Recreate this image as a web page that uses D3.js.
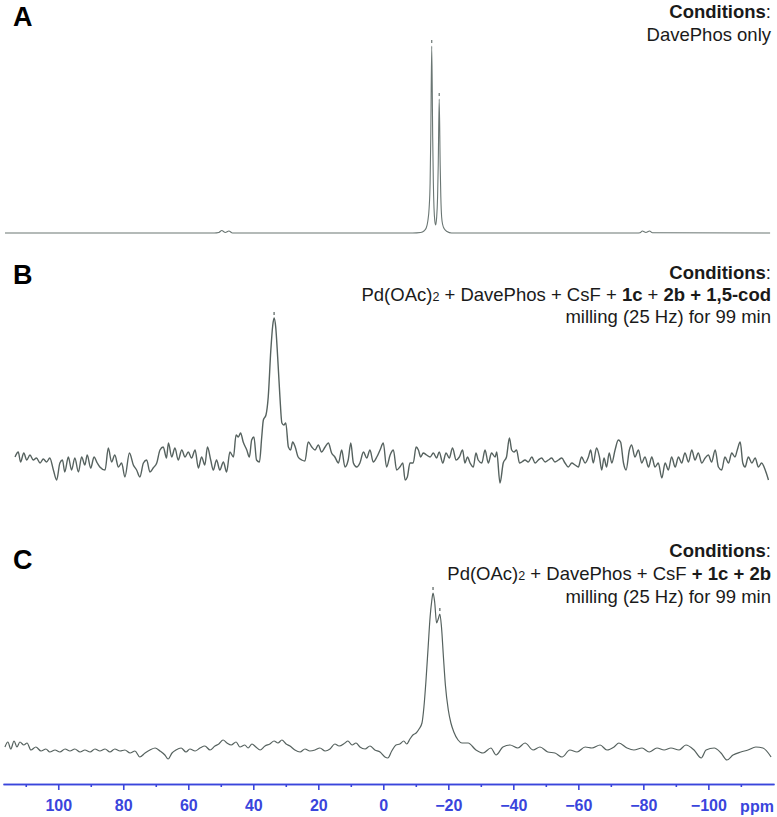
<!DOCTYPE html>
<html>
<head>
<meta charset="utf-8">
<script src="https://cdnjs.cloudflare.com/ajax/libs/d3/7.8.5/d3.min.js"></script>
<style>
  body { margin: 0; background: #fff; }
  svg text { font-family: "Liberation Sans", Arial, sans-serif; }
</style>
</head>
<body>
<svg id="chart" width="777" height="817"></svg>
<script>
// tick values of the ppm axis
const majorTicks = [100, 80, 60, 40, 20, 0, -20, -40, -60, -80, -100];
const minorTicks = [110, 90, 70, 50, 30, 10, -10, -30, -50, -70, -90, -110];

// spectrum A: DavePhos only
const specA_ppm = [116.4, 80, 52, 50.6, 49.7, 48.6, 47.5, 46.4, 20, -9,
  -11.5, -12.5, -13.2, -13.7, -14.1, -14.4, -14.6, -14.9, -15.2, -15.4,
  -15.6, -15.85, -16.1, -16.4, -16.7, -16.9, -17.2, -17.5, -17.7, -17.95,
  -18.3, -18.8, -19.6, -21, -78, -79.0, -79.7, -80.8, -81.9, -82.8, -119];
const specA_int = [0, 0, 0, 0.5, 2.5, 0.5, 2, 0, 0, 0,
  0.5, 2, 5, 12, 25, 50, 95, 187, 95, 50,
  25, 12, 8, 15, 36, 68, 134, 68, 36, 16,
  8, 4, 1.5, 0, 0, 0.3, 2, 0.5, 2, 0.3, 0];
const peaksA = [-14.9, -17.2];

// spectrum B: with 1,5-cod
const specB_ppm = [113.3,112.3,111.6,110.6,109.7,108.7,107.7,106.7,105.6,104.6,
  103.6,102.6,101.5,100.5,99.5,98.7,98.0,96.9,95.9,94.9,
  93.8,92.8,91.8,91.1,90.0,89.0,88.0,87.2,85.6,84.6,
  83.6,82.6,81.5,80.5,79.5,78.1,76.9,75.9,74.9,73.8,
  72.8,71.8,70.8,69.7,68.7,67.7,66.7,66.1,65.1,64.1,
  63.1,62.0,61.0,60.0,59.0,57.9,56.9,55.9,54.9,54.1,
  53.1,52.3,51.3,50.3,49.2,48.2,47.2,46.1,45.3,44.6,
  43.9,43.1,42.0,41.2,40.5,39.8,39.0,38.1,37.4,36.9,
  36.1,35.4,34.6,34.0,33.6,33.1,32.5,31.8,31.2,30.6,
  30.0,29.2,28.5,27.9,27.1,26.2,25.1,24.1,23.1,22.0,
  21.0,20.0,19.0,17.9,16.9,15.9,14.9,13.8,12.8,11.8,
  10.8,10.0,9.2,8.2,7.2,6.1,5.1,4.1,3.1,2.0,
  1.0,0.0,-1.0,-2.1,-3.1,-4.1,
  -5.1,-6.0,-6.7,-7.4,-8.2,-9.2,-10.1,-10.8,-11.5,-12.3,
  -13.3,-14.4,-15.4,-16.4,-17.2,-18.3,-19.3,-20.3,-21.3,-22.4,
  -23.4,-24.4,-25.1,-25.9,-26.7,-27.7,-28.5,-29.2,-30.3,-31.3,
  -32.3,-33.3,-34.4,-34.9,-35.9,-36.9,-37.9,-38.8,-39.5,-40.2,
  -41.0,-41.9,-42.6,-43.6,-44.6,-45.7,-46.7,-47.7,-48.7,-49.8,
  -50.8,-51.8,-52.8,-53.9,-54.9,-55.9,-56.9,-58.0,-59.0,-60.0,
  -61.0,-62.1,-63.1,-63.8,-64.6,-65.6,-66.5,-67.2,-67.9,-68.7,
  -69.5,-70.3,-71.3,-72.3,-73.0,-73.9,-74.7,-75.7,-76.4,-77.4,
  -78.5,-79.5,-80.5,-81.6,-82.6,-83.6,-84.6,-85.7,-86.7,-87.7,
  -88.7,-89.8,-90.8,-91.8,-92.8,-93.9,-94.9,-95.9,-96.9,-98.0,
  -99.0,-100.0,-101.0,-102.1,-103.1,-104.1,-105.1,-106.2,-107.2,-108.2,
  -108.9,-109.8,-110.6,-111.3,-112.3,-113.4,-114.4,-115.4,-116.4,-117.5,
  -118.5];
const specB_int = [3,8,-2,7,0,5,0,2,-3,1,
  -2,2,-10,-20,-3,0,-12,3,-10,2,
  -12,3,-5,5,-8,3,-3,-7,-10,12,
  -2,5,-7,-3,-17,7,-5,-10,-17,-3,
  0,-12,-8,-3,10,13,2,17,3,12,
  0,10,3,8,2,10,-8,3,-5,13,
  0,-10,0,-10,-2,-12,8,3,25,23,
  27,18,10,3,20,23,0,-2,23,40,
  45,63,110,135,142,133,103,63,37,35,
  37,13,10,18,13,3,0,-1,18,13,
  10,15,8,13,17,7,3,-3,10,-7,
  0,17,-3,-7,-3,8,2,10,-2,3,
  10,17,-7,5,10,-10,
  -7,-3,-20,-17,-3,-3,13,10,3,7,
  5,3,7,2,8,-3,7,2,12,0,
  3,10,-3,3,-3,-7,7,0,-3,10,
  -3,7,3,8,-23,-3,3,22,10,8,
  10,-3,-2,0,-2,3,-3,0,2,-2,
  0,2,-2,0,2,-3,-7,-3,-5,-7,
  3,-3,3,10,-3,12,3,-10,2,-7,
  7,-3,10,20,18,-3,-10,10,15,3,
  10,-3,3,-7,3,-7,-3,-18,-3,-10,
  3,-7,3,-3,7,-2,10,0,7,-3,
  2,5,-2,10,-7,-10,3,-3,7,3,
  10,18,-3,-7,3,-3,2,-7,-3,-10,
  -20];
const peaksB = [33.6];

// spectrum C: without 1,5-cod
const specC_ppm = [116.4,115.5,114.6,113.6,112.7,111.8,110.6,109.6,108.4,106.9,
  105.3,103.8,102.6,101.0,99.5,97.9,96.4,94.9,93.3,91.8,
  90.2,88.7,87.2,85.6,84.1,82.6,81.0,79.5,77.9,76.4,
  74.9,73.3,71.8,70.2,68.7,67.2,66.2,65.0,63.8,62.2,
  60.7,59.5,57.9,56.4,54.9,53.3,51.8,50.6,49.3,48.1,
  46.8,45.3,44.1,42.6,41.6,40.4,39.2,37.9,36.4,34.9,
  33.6,32.4,31.2,29.9,28.7,27.2,25.6,24.1,22.6,21.0,
  19.5,17.9,16.4,14.9,13.6,11.8,10.9,9.6,8.4,7.2,
  5.6,4.1,2.6,1.0,-0.5,-1.4,-2.6,-3.9,-5.1,-6.3,
  -7.2,-8.2,-9.1,-10.1,-11.0,-11.9,-12.5,-13.1,-13.8,-14.4,
  -14.9,-15.3,-15.8,-16.4,-16.9,-17.4,-17.9,-18.5,-19.1,-20.0,
  -20.8,-21.7,-23.0,-24.2,-26.1,-28.5,-30.7,-33.1,-34.7,-36.8,
  -39.0,-41.4,-43.6,-46.1,-48.2,-50.6,-52.8,-55.0,-57.4,-59.6,
  -62.1,-64.2,-66.7,-68.8,-71.0,-72.5,-75.0,-77.1,-79.6,-81.8,
  -84.2,-86.4,-88.5,-91.0,-93.1,-95.6,-97.8,-99.3,-101.8,-103.9,
  -105.7,-107.6,-110.0,-112.2,-114.6,-116.8,-119.3];
const specC_int = [0,5,-2,6,0,5,2,4,-3,0,
  -4,-2,-5,-3,-5,-2,-4,-2,-5,-3,
  -5,-2,-4,-2,-5,-2,-4,-3,-6,-4,
  -10,-6,-3,-1,-4,-8,-12,-6,-3,-1,
  -5,-2,-4,-1,1,-3,1,3,7,4,
  2,5,0,2,-1,3,0,-3,1,3,
  6,4,7,3,1,-3,-5,-2,-4,-3,
  -1,-4,-2,3,1,4,6,2,4,0,
  -2,1,-3,-5,-10,-11,-4,2,3,6,
  3,8,12,14,18,24,40,65,100,130,
  146,154,145,124,128,133,120,90,62,37,
  24,15,7,4,4,-3,-6,-1,-8,0,
  2,-1,4,-3,0,-5,-6,-10,-3,-5,
  0,-1,2,-3,0,4,-1,-3,-1,-5,
  -1,-3,-1,-3,2,-3,-11,-3,-1,-6,
  -13,-8,-5,-3,0,-1,-10];
const peaksC = [-15.3, -17.4];

const svg = d3.select("#chart");
const lineColor = "#56625f";
const blue = "#3a45dc";

// shared ppm scale (reversed, as usual for NMR)
const x = d3.scaleLinear().domain([117, -120.2]).range([3, 774]);

const panels = [
  { ppm: specA_ppm, val: specA_int, peaks: peaksA, y: d3.scaleLinear([0, 187], [233, 46]), width: 1.1, color: "#6a7673" },
  { ppm: specB_ppm, val: specB_int, peaks: peaksB, y: d3.scaleLinear([0, 142], [460, 318]), width: 1.4, color: lineColor },
  { ppm: specC_ppm, val: specC_int, peaks: peaksC, y: d3.scaleLinear([0, 154], [747, 593]), width: 1.2, color: lineColor }
];

panels.forEach(p => {
  const pts = d3.zip(p.ppm, p.val);
  const line = d3.line()
    .x(d => x(d[0]))
    .y(d => p.y(d[1]))
    .curve(d3.curveMonotoneX);
  svg.append("path")
    .datum(pts)
    .attr("d", line)
    .attr("fill", "none")
    .attr("stroke", p.color)
    .attr("stroke-width", p.width)
    .attr("stroke-linejoin", "round");

  // peak-pick marks just above each peak
  svg.selectAll(null)
    .data(p.peaks)
    .enter().append("line")
    .attr("x1", d => x(d)).attr("x2", d => x(d))
    .attr("y1", d => p.y(p.val[d3.minIndex(p.ppm, q => Math.abs(q - d))]) - 6)
    .attr("y2", d => p.y(p.val[d3.minIndex(p.ppm, q => Math.abs(q - d))]) - 3)
    .attr("stroke", p.color)
    .attr("stroke-width", 1.2);
});

// axis
const axisY = 784;
const gMinor = svg.append("g")
  .attr("transform", `translate(0,${axisY})`)
  .call(d3.axisBottom(x).tickValues(minorTicks).tickSize(3).tickSizeOuter(0).tickFormat(""));
const gMajor = svg.append("g")
  .attr("transform", `translate(0,${axisY})`)
  .call(d3.axisBottom(x).tickValues(majorTicks).tickSize(6).tickSizeOuter(0).tickPadding(10));
[gMinor, gMajor].forEach(g => {
  g.selectAll("path, line").attr("stroke", blue).attr("stroke-width", 1.6);
});
gMajor.selectAll("text")
  .attr("fill", blue)
  .style("font-size", "16px")
  .style("font-weight", "bold");
svg.append("text")
  .attr("x", 757).attr("y", 812)
  .attr("text-anchor", "middle")
  .attr("fill", blue)
  .style("font-size", "16px")
  .style("font-weight", "bold")
  .text("ppm");

// panel letters
const letters = [["A", 26], ["B", 284], ["C", 569]];
svg.selectAll(".letter")
  .data(letters)
  .enter().append("text")
  .attr("class", "letter")
  .attr("x", 13).attr("y", d => d[1])
  .style("font-size", "27px")
  .style("font-weight", "bold")
  .attr("fill", "#000")
  .text(d => d[0]);

// condition text blocks, each line is a list of [text, bold, small]
function textLine(y, parts) {
  const t = svg.append("text")
    .attr("x", 771).attr("y", y)
    .attr("text-anchor", "end")
    .attr("fill", "#1a1a1a")
    .style("font-size", "18.5px");
  parts.forEach(pt => {
    t.append("tspan")
      .style("font-weight", pt[1] ? "bold" : "normal")
      .style("font-size", pt[2] ? "12.5px" : null)
      .text(pt[0]);
  });
}
const pd = [["Pd(OAc)", false], ["2", false, true], [" + DavePhos + CsF", false]];

textLine(18, [["Conditions", true], [":", false]]);
textLine(41, [["DavePhos only", false]]);

textLine(279, [["Conditions", true], [":", false]]);
textLine(301, pd.concat([[" + ", false], ["1c", true], [" + ", false], ["2b + 1,5-cod", true]]));
textLine(323, [["milling (25 Hz) for 99 min", false]]);

textLine(557, [["Conditions", true], [":", false]]);
textLine(580, pd.concat([[" + 1c + 2b", true]]));
textLine(603, [["milling (25 Hz) for 99 min", false]]);
</script>
</body>
</html>
